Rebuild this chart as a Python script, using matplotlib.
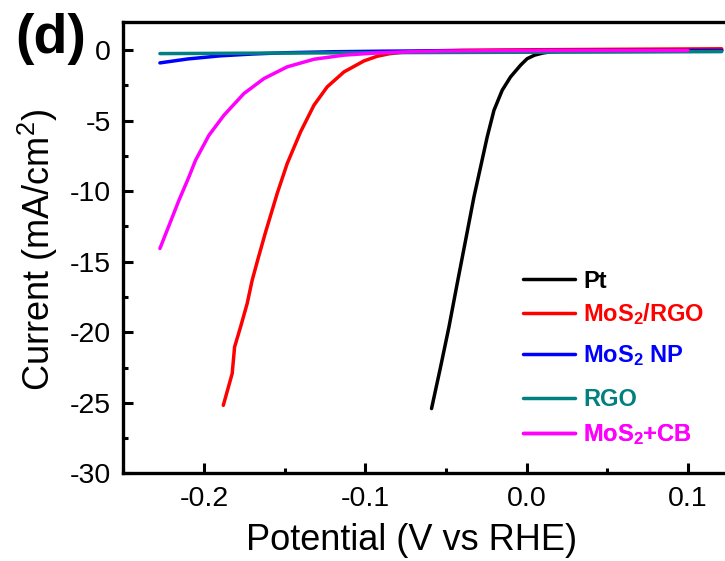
import matplotlib
matplotlib.use("Agg")
import matplotlib.pyplot as plt
from matplotlib.ticker import MultipleLocator

plt.rcParams['font.family'] = ['Liberation Sans', 'DejaVu Sans']
plt.rcParams['mathtext.fontset'] = 'custom'
plt.rcParams['mathtext.rm'] = 'Liberation Sans'
plt.rcParams['mathtext.bf'] = 'Liberation Sans:bold'
plt.rcParams['mathtext.it'] = 'Liberation Sans:italic'

# ---- data ----
pt_x = [-0.0589, -0.0533, -0.0481, -0.0430, -0.0378, -0.0326, -0.0285, -0.0244,
        -0.0202, -0.0151, -0.0099, -0.0037, 0.0004, 0.005, 0.010, 0.016, 0.025,
        0.035, 0.05, 0.08, 0.121]
pt_y = [-25.41, -22.46, -19.62, -16.55, -13.48, -10.40, -8.28, -6.15,
        -4.26, -2.84, -1.89, -1.06, -0.60, -0.35, -0.20, -0.10, -0.04,
        -0.02, -0.01, 0.0, 0.0]

rgo_mos2_x = [-0.188, -0.1825, -0.181, -0.1773, -0.1732, -0.1701, -0.1665, -0.1618,
              -0.1546, -0.1484, -0.1401, -0.1318, -0.1236, -0.1132, -0.1008, -0.0926,
              -0.085, -0.075, -0.06, -0.04, 0.0, 0.05, 0.121]
rgo_mos2_y = [-25.18, -22.93, -21.04, -19.62, -17.96, -16.31, -14.8, -12.9,
              -10.16, -8.04, -5.79, -3.90, -2.60, -1.54, -0.76, -0.43,
              -0.25, -0.12, -0.05, 0.0, 0.03, 0.06, 0.10]

np_x = [-0.2273, -0.21, -0.19, -0.17, -0.15, -0.12, -0.09, -0.05, 0.0, 0.05, 0.121]
np_y = [-0.90, -0.62, -0.40, -0.27, -0.18, -0.11, -0.07, -0.04, -0.03, -0.02, -0.02]

rgo_x = [-0.2273, -0.15, -0.05, 0.05, 0.121]
rgo_y = [-0.24, -0.20, -0.16, -0.13, -0.10]

cb_x = [-0.2273, -0.2208, -0.2155, -0.2093, -0.2052, -0.1969, -0.1876, -0.1752,
        -0.1628, -0.1484, -0.1318, -0.1132, -0.0926, -0.07, -0.05, -0.02, 0.02,
        0.06, 0.10]
cb_y = [-14.06, -12.18, -10.64, -8.98, -7.80, -6.03, -4.61, -3.07,
        -2.01, -1.18, -0.64, -0.35, -0.19, -0.10, -0.06, -0.03, -0.02,
        -0.02, -0.02]

labels = ['Pt', r'MoS$_\mathbf{2}$/RGO', r'MoS$_\mathbf{2}$ NP', 'RGO', r'MoS$_\mathbf{2}$+CB']
colors = ['#000000', '#FF0000', '#0000FF', '#008080', '#FF00FF']
series = [(pt_x, pt_y), (rgo_mos2_x, rgo_mos2_y), (np_x, np_y), (rgo_x, rgo_y), (cb_x, cb_y)]
legend_rows_px = [281, 314, 356, 400, 435]  # vertical positions of legend entries

W, H = 725, 561
fig = plt.figure(figsize=(W / 100, H / 100), dpi=100)
left, right, bottom, top = 123.3, 768.5, 473.3, 22.0
ax = fig.add_axes([left / W, 1 - bottom / H, (right - left) / W, (bottom - top) / H])

lines = []
for (x, y), c, lab in zip(series, colors, labels):
    ln, = ax.plot(x, y, color=c, lw=2.5, label=lab, solid_capstyle='round')
    lines.append(ln)

ax.set_xlim(-0.25, 0.15)
ax.set_ylim(-30, 2)
ax.xaxis.set_minor_locator(MultipleLocator(0.05))
ax.yaxis.set_minor_locator(MultipleLocator(2.5))
ax.set_xticks([-0.2, -0.1, 0.0, 0.1])
ax.set_xticklabels(['-0.2', '-0.1', '0.0', '0.1'])
ax.set_yticks([0, -5, -10, -15, -20, -25, -30])
ax.set_yticklabels(['0', '-5', '-10', '-15', '-20', '-25', '-30'])

for s in ax.spines.values():
    s.set_linewidth(2.4)
ax.tick_params(which='both', direction='in', top=False, right=False, width=2.2,
               labelsize=20.5)
ax.tick_params(which='major', length=7)
ax.tick_params(which='minor', length=3.6)
ax.tick_params(axis='x', pad=9)
ax.tick_params(axis='y', pad=9)

fig.text(411.7 / W, 1 - 541 / H, 'Potential (V vs RHE)', fontsize=26,
         ha='center', va='center')
fig.text(38 / W, 1 - 250 / H, 'Current (mA/cm$^2$)', fontsize=26,
         ha='center', va='center', rotation=90)
fig.text(15 / W, 1 - 39 / H, '(d)', fontsize=40, fontweight='bold',
         ha='left', va='center')

for ln, ypx in zip(lines, legend_rows_px):
    leg = ax.legend(handles=[ln], loc='center left',
                    bbox_to_anchor=(523 / W, 1 - ypx / H),
                    bbox_transform=fig.transFigure, frameon=False,
                    prop={'weight': 'bold', 'size': 17}, handlelength=2.2,
                    handletextpad=0.35, borderpad=0, borderaxespad=0)
    for t in leg.get_texts():
        t.set_color(ln.get_color())
    for l in leg.get_lines():
        l.set_linewidth(2.5)
    ax.add_artist(leg)

fig.savefig('out.png', dpi=100)
